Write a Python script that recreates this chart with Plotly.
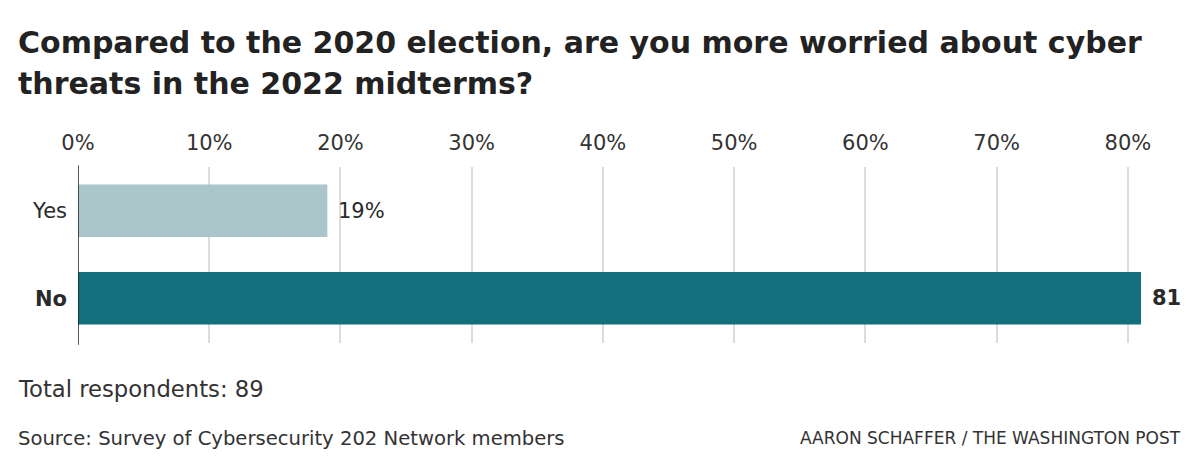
import plotly.graph_objects as go

categories = ["Yes", "No"]
category_labels = ["Yes", "<b>No</b>"]
values = [19, 81]
value_labels = ["19%", "<b>81</b>"]
bar_colors = ["#abc6cb", "#136f7c"]
tick_vals = [0, 10, 20, 30, 40, 50, 60, 70, 80]
tick_text = ["0%", "10%", "20%", "30%", "40%", "50%", "60%", "70%", "80%"]
title_lines = ["Compared to the 2020 election, are you more worried about cyber",
               "threats in the 2022 midterms?"]

W, H = 1200, 472
L, R, T, B = 78, 59, 167, 129
pw, ph = W - L - R, H - T - B

def px_y(y):
    return (H - B - y) / ph

def px_x(x):
    return (x - L) / pw

FONT = "DejaVu Sans"
TXT = "#2a2a2a"

fig = go.Figure()
fig.add_trace(go.Bar(
    y=categories, x=values, orientation="h",
    marker=dict(color=bar_colors, line=dict(width=0)),
    width=0.6, hoverinfo="skip",
))

for cat, v, lab in zip(categories, values, value_labels):
    fig.add_annotation(x=v, y=cat, xref="x", yref="y", text=lab, showarrow=False,
                       xanchor="left", yanchor="middle", xshift=9,
                       font=dict(family=FONT, size=21, color=TXT))

fig.update_layout(
    width=W, height=H,
    margin=dict(l=L, r=R, t=T, b=B, autoexpand=False),
    plot_bgcolor="white", paper_bgcolor="white",
    showlegend=False,
    font=dict(family=FONT, color=TXT),
    xaxis=dict(
        side="top", range=[0, 81], tickvals=tick_vals, ticktext=tick_text,
        tickfont=dict(family=FONT, size=21, color="#333333"),
        showgrid=True, gridcolor="#dcdcdc", gridwidth=1.5,
        zeroline=False, showline=False, ticks="", ticklabelstandoff=12,
        fixedrange=True,
    ),
    yaxis=dict(
        categoryorder="array", categoryarray=categories,
        tickvals=categories, ticktext=category_labels,
        autorange=False, range=[1.51, -0.5],
        tickfont=dict(family=FONT, size=21, color=TXT),
        showgrid=False, zeroline=False, showline=False, ticks="",
        ticklabelstandoff=10, fixedrange=True,
    ),
)

# title lines
for line, ypx in zip(title_lines, [42, 84]):
    fig.add_annotation(text=f"<b>{line}</b>", xref="paper", yref="paper",
                       x=px_x(16), y=px_y(ypx), xanchor="left", yanchor="middle",
                       showarrow=False, font=dict(family=FONT, size=30, color="#222222"))

# baseline at zero
fig.add_shape(type="line", xref="x", yref="paper", x0=0, x1=0, y0=-0.01, y1=1.01,
              line=dict(color="#222222", width=1.5))

fig.add_annotation(text="Total respondents: 89", xref="paper", yref="paper",
                   x=px_x(16), y=px_y(389), xanchor="left", yanchor="middle",
                   showarrow=False, font=dict(family=FONT, size=22.7, color="#333333"))
fig.add_annotation(text="Source: Survey of Cybersecurity 202 Network members", xref="paper", yref="paper",
                   x=px_x(16), y=px_y(438), xanchor="left", yanchor="middle",
                   showarrow=False, font=dict(family=FONT, size=19.6, color="#333333"))
fig.add_annotation(text="AARON SCHAFFER / THE WASHINGTON POST", xref="paper", yref="paper",
                   x=px_x(1183), y=px_y(438), xanchor="right", yanchor="middle",
                   showarrow=False, font=dict(family=FONT, size=17, color="#333333"))

fig.write_html("out.html", config={"displayModeBar": False},
               post_script="document.body.style.margin='0';document.body.style.overflow='hidden';")
